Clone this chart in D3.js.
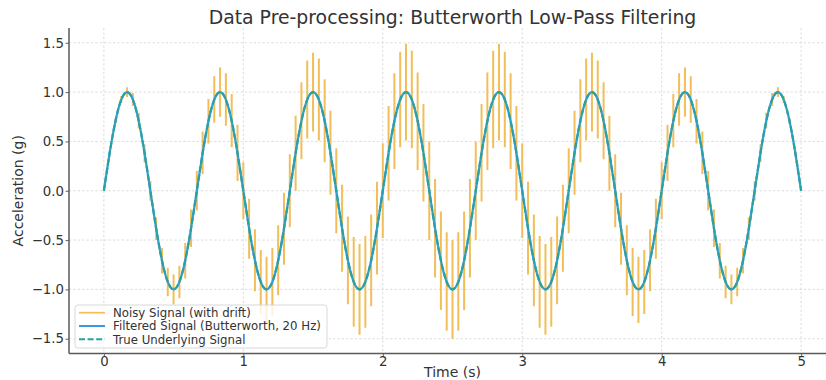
<!DOCTYPE html>
<html>
<head>
<meta charset="utf-8">
<script src="https://cdn.jsdelivr.net/npm/d3@7"></script>
<style>
  body { margin: 0; background: #fff; }
  svg { display: block; font-family: "DejaVu Sans", sans-serif; }
</style>
</head>
<body>
<svg id="chart" width="826" height="380"></svg>
<script>
// ---------- data ----------
const sampleStep = 1 / 24;                       // seconds between samples
const time = d3.range(121).map(i => i * sampleStep);

const trueSignal = [
  0, .383, .707, .924, 1, .924, .707, .383, 0, -.383, -.707, -.924, -1, -.924, -.707, -.383,
  0, .383, .707, .924, 1, .924, .707, .383, 0, -.383, -.707, -.924, -1, -.924, -.707, -.383,
  0, .383, .707, .924, 1, .924, .707, .383, 0, -.383, -.707, -.924, -1, -.924, -.707, -.383,
  0, .383, .707, .924, 1, .924, .707, .383, 0, -.383, -.707, -.924, -1, -.924, -.707, -.383,
  0, .383, .707, .924, 1, .924, .707, .383, 0, -.383, -.707, -.924, -1, -.924, -.707, -.383,
  0, .383, .707, .924, 1, .924, .707, .383, 0, -.383, -.707, -.924, -1, -.924, -.707, -.383,
  0, .383, .707, .924, 1, .924, .707, .383, 0, -.383, -.707, -.924, -1, -.924, -.707, -.383,
  0, .383, .707, .924, 1, .924, .707, .383, 0
];

const filteredSignal = [
  0, .383, .707, .924, 1, .924, .707, .383, 0, -.383, -.707, -.924, -1, -.924, -.707, -.383,
  0, .383, .707, .924, 1, .924, .707, .383, 0, -.383, -.707, -.924, -1, -.924, -.707, -.383,
  0, .383, .707, .924, 1, .924, .707, .383, 0, -.383, -.707, -.924, -1, -.924, -.707, -.383,
  0, .383, .707, .924, 1, .924, .707, .383, 0, -.383, -.707, -.924, -1, -.924, -.707, -.383,
  0, .383, .707, .924, 1, .924, .707, .383, 0, -.383, -.707, -.924, -1, -.924, -.707, -.383,
  0, .383, .707, .924, 1, .924, .707, .383, 0, -.383, -.707, -.924, -1, -.924, -.707, -.383,
  0, .383, .707, .924, 1, .924, .707, .383, 0, -.383, -.707, -.924, -1, -.924, -.707, -.383,
  0, .383, .707, .924, 1, .924, .707, .383, 0
];

// noisy signal: upper and lower tips of each spike
const noisyHigh = [
  0, .40, .73, .96, 1.05, .99, .79, .47, .10, -.27, -.58, -.78, -.85, -.76, -.53, -.19,
  .20, .60, .93, 1.16, 1.25, 1.19, .98, .67, .29, -.08, -.39, -.60, -.67, -.58, -.35, -.02,
  .37, .76, 1.10, 1.32, 1.40, 1.34, 1.13, .81, .43, .06, -.26, -.47, -.54, -.46, -.24, .09,
  .48, .86, 1.19, 1.41, 1.49, 1.42, 1.20, .88, .50, .12, -.21, -.42, -.50, -.42, -.21, .12,
  .50, .88, 1.20, 1.42, 1.49, 1.41, 1.19, .86, .48, .09, -.24, -.46, -.54, -.47, -.26, .06,
  .43, .81, 1.13, 1.34, 1.40, 1.32, 1.10, .76, .37, -.02, -.35, -.58, -.67, -.60, -.39, -.08,
  .29, .67, .98, 1.19, 1.25, 1.16, .93, .60, .20, -.19, -.53, -.76, -.85, -.78, -.58, -.27,
  .10, .47, .79, .99, 1.05, .96, .73, .40, 0
];
const noisyLow = [
  0, .37, .68, .89, .95, .86, .63, .29, -.10, -.50, -.84, -1.07, -1.15, -1.09, -.89, -.57,
  -.20, .17, .48, .69, .75, .66, .44, .10, -.29, -.69, -1.02, -1.25, -1.34, -1.27, -1.06, -.75,
  -.37, .00, .32, .53, .60, .51, .29, -.04, -.43, -.82, -1.15, -1.38, -1.46, -1.39, -1.17, -.85,
  -.48, -.10, .22, .44, .51, .43, .21, -.11, -.50, -.88, -1.21, -1.42, -1.50, -1.42, -1.21, -.88,
  -.50, -.11, .21, .43, .51, .44, .22, -.10, -.48, -.85, -1.17, -1.39, -1.46, -1.38, -1.15, -.82,
  -.43, -.04, .29, .51, .60, .53, .32, .00, -.37, -.75, -1.06, -1.27, -1.34, -1.25, -1.02, -.69,
  -.29, .10, .44, .66, .75, .69, .48, .17, -.20, -.57, -.89, -1.09, -1.15, -1.07, -.84, -.50,
  -.10, .29, .63, .86, .95, .89, .68, .37, 0
];

const xTicks = [0, 1, 2, 3, 4, 5];
const yTicks = [-1.5, -1.0, -0.5, 0.0, 0.5, 1.0, 1.5];
const seriesNames = [
  "Noisy Signal (with drift)",
  "Filtered Signal (Butterworth, 20 Hz)",
  "True Underlying Signal"
];
const titleText = "Data Pre-processing: Butterworth Low-Pass Filtering";
const xLabelText = "Time (s)";
const yLabelText = "Acceleration (g)";

// ---------- styles ----------
const colNoisy = "rgb(241,190,90)";
const colFiltered = "#3a98dc";
const colTrue = "#26a49a";
const textCol = "#333";

// ---------- chart ----------
const svg = d3.select("#chart");
const plotL = 69, plotR = 836, plotT = 28, plotB = 353.5;
const x = d3.scaleLinear().domain([-0.25, 5.25]).range([plotL, plotR]);
const y = d3.scaleLinear().domain([-1.65, 1.65]).range([plotB, plotT]);

function fit(sel, target) {
  const w = sel.node().getComputedTextLength();
  const fs = parseFloat(sel.attr("font-size"));
  sel.attr("font-size", fs * target / w);
}

// grid
const grid = svg.append("g").attr("stroke", "#d2d2d2").attr("stroke-width", 0.8)
  .attr("stroke-dasharray", "2.2,2.2");
grid.selectAll(".gx").data(xTicks).join("line").attr("class", "gx")
  .attr("x1", d => x(d)).attr("x2", d => x(d)).attr("y1", plotT).attr("y2", plotB);
grid.selectAll(".gy").data(yTicks).join("line").attr("class", "gy")
  .attr("x1", plotL).attr("x2", plotR).attr("y1", d => y(d)).attr("y2", d => y(d));

// noisy signal spikes
const line = d3.line().x(d => x(d[0])).y(d => y(d[1]));
const spikePath = time.map((t, i) => line([[t, noisyLow[i]], [t, noisyHigh[i]]])).join("");
svg.append("path").attr("d", spikePath).attr("fill", "none")
  .attr("stroke", colNoisy).attr("stroke-width", 2).attr("stroke-linecap", "butt");

// filtered signal
const smooth = d3.line().x((d, i) => x(time[i])).y(d => y(d)).curve(d3.curveNatural);
svg.append("path").attr("d", smooth(filteredSignal)).attr("fill", "none")
  .attr("stroke", colFiltered).attr("stroke-width", 2.2);

// true signal (dashed)
svg.append("path").attr("d", smooth(trueSignal)).attr("fill", "none")
  .attr("stroke", colTrue).attr("stroke-width", 2.2).attr("stroke-dasharray", "6,2.6");

// axes
const fmt = d3.format(".1f");
const yAxis = svg.append("g").attr("transform", `translate(${plotL},0)`)
  .call(d3.axisLeft(y).tickValues(yTicks).tickFormat(fmt).tickSize(3.5).tickPadding(1.5));
const xAxis = svg.append("g").attr("transform", `translate(0,${plotB})`)
  .call(d3.axisBottom(x).tickValues(xTicks).tickFormat(d3.format("d")).tickSize(3.5).tickPadding(0));
[yAxis, xAxis].forEach(a => {
  a.select(".domain").remove();
  a.selectAll(".tick line").attr("stroke", "#666").attr("stroke-width", 1);
  a.selectAll(".tick text").attr("fill", textCol).attr("font-size", 13.3)
    .attr("font-family", "DejaVu Sans, sans-serif");
});

// spines
svg.append("line").attr("x1", plotL).attr("x2", plotL).attr("y1", plotT).attr("y2", plotB)
  .attr("stroke", "#5a5a5a").attr("stroke-width", 1.5);
svg.append("line").attr("x1", plotL).attr("x2", plotR).attr("y1", plotB).attr("y2", plotB)
  .attr("stroke", "#5a5a5a").attr("stroke-width", 1.5);

// title
const title = svg.append("text").attr("x", (plotL + plotR) / 2).attr("y", 24)
  .attr("text-anchor", "middle").attr("font-size", 16).attr("fill", textCol).text(titleText);
fit(title, 488);

// axis labels
const xl = svg.append("text").attr("x", (plotL + plotR) / 2).attr("y", 376.5)
  .attr("text-anchor", "middle").attr("font-size", 13.5).attr("fill", textCol).text(xLabelText);
fit(xl, 57);
const yl = svg.append("text").attr("transform", `translate(22.5,${(plotT + plotB) / 2}) rotate(-90)`)
  .attr("text-anchor", "middle").attr("font-size", +xl.attr("font-size")).attr("fill", textCol)
  .text(yLabelText);

// legend
const lg = svg.append("g");
lg.append("rect").attr("x", 75).attr("y", 305).attr("width", 252).attr("height", 43)
  .attr("rx", 3).attr("fill", "#fff").attr("fill-opacity", 0.8)
  .attr("stroke", "#d4d4d4").attr("stroke-width", 0.9);
const legendStyles = [
  { c: colNoisy, w: 1.7, dash: null },
  { c: colFiltered, w: 2, dash: null },
  { c: colTrue, w: 2, dash: "6,2.6" }
];
const rowY = [312.7, 326, 339.3];
const texts = [];
seriesNames.forEach((name, i) => {
  const s = legendStyles[i];
  lg.append("line").attr("x1", 79).attr("x2", 105).attr("y1", rowY[i]).attr("y2", rowY[i])
    .attr("stroke", s.c).attr("stroke-width", s.w).attr("stroke-dasharray", s.dash);
  texts.push(lg.append("text").attr("x", 113).attr("y", rowY[i]).attr("dy", "0.36em")
    .attr("font-size", 11).attr("fill", textCol).text(name));
});
const w1 = texts[1].node().getComputedTextLength();
const legendFs = 11 * 208 / w1;
texts.forEach(t => t.attr("font-size", legendFs));
</script>
</body>
</html>
